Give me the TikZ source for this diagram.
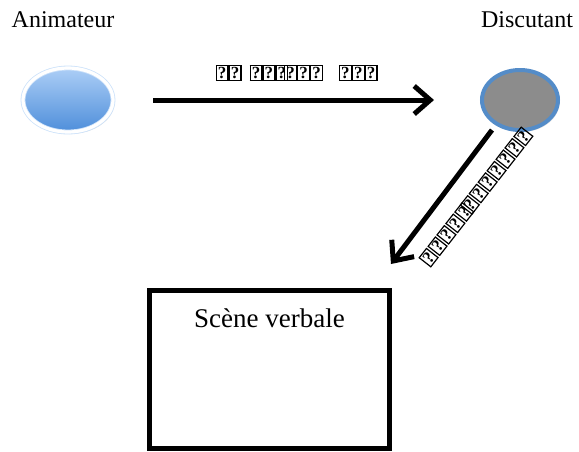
\documentclass[tikz,border=0pt]{standalone}
\usepackage{fontspec}
\setmainfont{LiberationSerif}[Extension=.ttf, UprightFont=*-Regular, BoldFont=*-Bold, ItalicFont=*-Italic, BoldItalicFont=*-BoldItalic]
\usetikzlibrary{positioning,shapes.geometric,shadows,arrows.meta}
\definecolor{animtop}{RGB}{172,206,246}
\definecolor{animbot}{RGB}{78,142,218}
\definecolor{discfill}{RGB}{140,140,140}
\definecolor{discline}{RGB}{84,140,200}
\newcommand{\tofu}{{\setlength{\fboxsep}{0.5pt}\setlength{\fboxrule}{0.6pt}\fbox{\fontsize{8.5}{8.5}\selectfont\bfseries ?}}}
\newcommand{\tk}{\kern0.8pt}
\tikzstyle{txt}=[font=\fontsize{12}{14}\selectfont]
\tikzstyle{anim}=[ellipse, minimum width=45pt, minimum height=32pt,
               top color=animtop, bottom color=animbot,
               draw=animtop!60, double=white, double distance=1.6pt,
               drop shadow={opacity=0.25, shadow xshift=0.8pt, shadow yshift=-1pt}]
\tikzstyle{disc}=[ellipse, minimum width=38pt, minimum height=30pt,
               fill=discfill, draw=discline, line width=2pt,
               drop shadow={opacity=0.25, shadow xshift=0.8pt, shadow yshift=-1pt}]
\tikzstyle{scenebox}=[draw, line width=2.5pt, minimum width=120pt, minimum height=79pt, inner sep=0]
\tikzstyle{bigarrow}=[line width=2.5pt, -{Straight Barb[length=8pt,width=14pt,line width=2.5pt]}]

\begin{document}
\begin{tikzpicture}[x=0.5pt,y=-0.5pt]
\useasboundingbox (0,0) rectangle (579,451);

\node[txt] (animtxt) at (63,20) {Animateur};
\node[txt] (disctxt) at (527,20) {Discutant};

\node[anim] (anim) at (68,100) {};
\node[disc] (disc) at (520,100) {};

\draw[bigarrow, shorten <=20pt, shorten >=23pt] (anim) -- (disc)
  node[midway, above=5pt] (lab1) {\tofu\tofu\hspace{4pt}\tofu\tofu\tofu\kern-2pt\tofu\tofu\tofu\hspace{8pt}\tofu\tofu\tofu};

\coordinate (d1) at (492,130);
\coordinate (d2) at (391,264);
\draw[bigarrow] (d1) -- (d2);
\node[rotate=52, inner sep=0] (lab2) at (476,197) {\tofu\tk\tofu\tk\tofu\tk\tofu\tk\tofu\kern-2pt\tofu\tk\tofu\tk\tofu\tk\tofu\tk\tofu\tk\tofu\tk\tofu};

\node[scenebox] (scene) at (269.5,369) {};
\node[txt, font=\fontsize{13.5}{16}\selectfont, below=7pt of scene.north] (scenetxt) {Scène verbale};
\end{tikzpicture}
\end{document}
